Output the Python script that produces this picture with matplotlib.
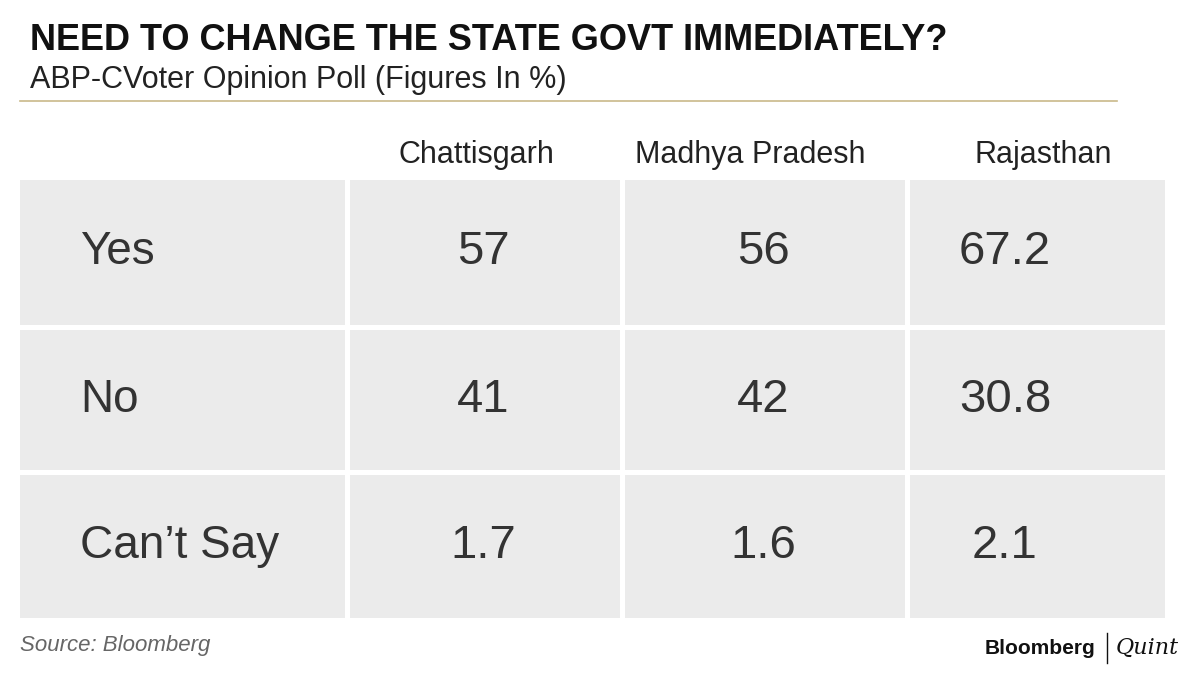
import matplotlib
matplotlib.use("Agg")
import matplotlib.pyplot as plt
from matplotlib.patches import Rectangle

states = ["Chattisgarh", "Madhya Pradesh", "Rajasthan"]
answers = ["Yes", "No", "Can\u2019t Say"]
chattisgarh = ["57", "41", "1.7"]
madhya_pradesh = ["56", "42", "1.6"]
rajasthan = ["67.2", "30.8", "2.1"]
columns = [chattisgarh, madhya_pradesh, rajasthan]

fam = "Liberation Sans"
fig = plt.figure(figsize=(12, 6.75), dpi=100)
ax = fig.add_axes([0, 0, 1, 1])
ax.set_xlim(0, 1200); ax.set_ylim(675, 0); ax.axis("off")

ax.text(30, 40, "NEED TO CHANGE THE STATE GOVT IMMEDIATELY?", fontsize=26, fontweight="bold",
        family=fam, va="center", ha="left", color="#111111")
ax.text(30, 80, "ABP-CVoter Opinion Poll (Figures In %)", fontsize=22, family=fam,
        va="center", ha="left", color="#222222")
ax.plot([20, 1117], [101, 101], color="#c9b98a", lw=1.2)

col_x = [(20, 345), (350, 620), (625, 905), (910, 1165)]
row_y = [(180, 325), (330, 470), (475, 618)]
header_x = [476, 750, 1043]
value_x = [483, 763, 1005]
for j, s in enumerate(states):
    ax.text(header_x[j], 155, s, fontsize=22, family=fam, ha="center", va="center", color="#222222")
for i, a in enumerate(answers):
    y0, y1 = row_y[i]
    for (x0, x1) in col_x:
        ax.add_patch(Rectangle((x0, y0), x1 - x0, y1 - y0, color="#ebebeb", lw=0))
    yc = (y0 + y1) / 2
    ax.text(80, yc, a, fontsize=33, family=fam, ha="left", va="center", color="#333333")
    for j, col in enumerate(columns):
        ax.text(value_x[j], yc, col[i], fontsize=34, family=fam, ha="center", va="center", color="#333333")

ax.text(20, 646, "Source: Bloomberg", fontsize=16, family=fam, style="italic",
        ha="left", va="center", color="#666666")
ax.text(1095, 648, "Bloomberg", fontsize=15, family=fam, fontweight="bold",
        ha="right", va="center", color="#111111")
ax.plot([1107, 1107], [633, 663], color="#111111", lw=1)
ax.text(1116, 648, "Quint", fontsize=16, family="DejaVu Serif", style="italic",
        ha="left", va="center", color="#111111")
fig.savefig("out.png", dpi=100, facecolor="white")
